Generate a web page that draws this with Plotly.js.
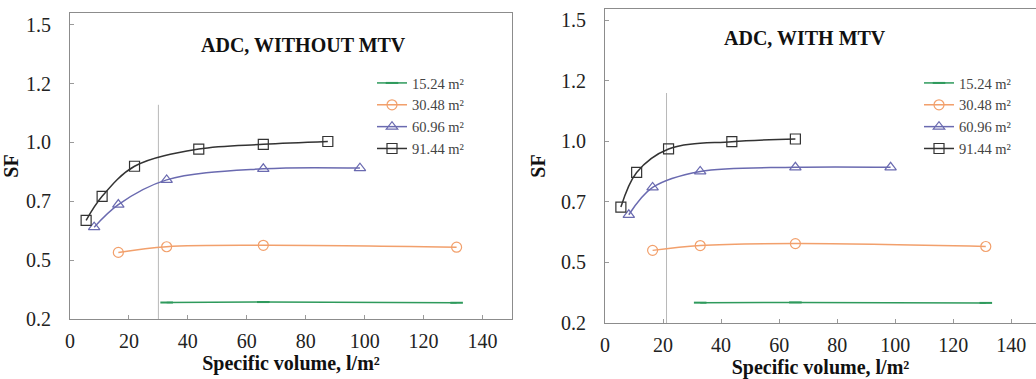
<!DOCTYPE html>
<html><head><meta charset="utf-8">
<script src="https://cdn.plot.ly/plotly-3.0.1.min.js"></script>
<style>html,body{margin:0;padding:0;background:#fff}#c{width:1036px;height:379px}</style>
</head><body><div id="c"></div>
<script>
const seriesNames = ["15.24 m²", "30.48 m²", "60.96 m²", "91.44 m²"];
const colors = ["#2e9a5c", "#f2a06c", "#6a6ab0", "#333333"];
const symbols = ["line-ew-open", "circle-open", "triangle-up-open", "square-open"];

const x15 = [32.8, 65.6, 131.2];
const x30 = [16.4, 32.8, 65.6, 131.2];
const x60 = [8.2, 16.4, 32.8, 65.6, 98.4];
const x91L = [5.47, 10.9, 21.9, 43.7, 65.6, 87.5];
const x91R = [5.47, 10.9, 21.9, 43.7, 65.6];

// ADC, WITHOUT MTV
const sf15L = [0.320, 0.322, 0.319];
const sf30L = [0.533, 0.557, 0.563, 0.555];
const sf60L = [0.640, 0.736, 0.841, 0.888, 0.891];
const sf91L = [0.669, 0.771, 0.899, 0.972, 0.992, 1.004];

// ADC, WITH MTV
const sf15R = [0.334, 0.335, 0.333];
const sf30R = [0.550, 0.570, 0.578, 0.566];
const sf60R = [0.697, 0.810, 0.876, 0.893, 0.893];
const sf91R = [0.729, 0.872, 0.969, 0.999, 1.010];

const refLineXL = [30, 30], refLineYL = [0.25, 1.16];
const refLineXR = [21.2, 21.2], refLineYR = [0.25, 1.2];

const yTickVals = [0.25, 0.5, 0.75, 1.0, 1.25, 1.5];
const yTickText = ["0.2", "0.5", "0.7", "1.0", "1.2", "1.5"];
const xTickVals = [0, 20, 40, 60, 80, 100, 120, 140];

const FONT = "'Times New Roman', 'Liberation Serif', 'DejaVu Serif', 'Noto Serif', Tinos, serif";

function mk(x, y, i, xa, ya, leg) {
  return {
    x: x, y: y, xaxis: xa, yaxis: ya, legend: leg,
    name: seriesNames[i], type: "scatter", mode: "lines+markers",
    line: {color: colors[i], width: 1.5, shape: "spline"},
    marker: {symbol: symbols[i], size: i === 0 ? 9 : 10, color: colors[i], line: {color: colors[i], width: i === 0 ? 2 : 1.2}}
  };
}

const data = [
  {x: refLineXL, y: refLineYL, xaxis: "x", yaxis: "y", mode: "lines", line: {color: "#b8b8b8", width: 1}, showlegend: false, hoverinfo: "skip"},
  mk(x15, sf15L, 0, "x", "y", "legend"),
  mk(x30, sf30L, 1, "x", "y", "legend"),
  mk(x60, sf60L, 2, "x", "y", "legend"),
  mk(x91L, sf91L, 3, "x", "y", "legend"),
  {x: refLineXR, y: refLineYR, xaxis: "x2", yaxis: "y2", mode: "lines", line: {color: "#b8b8b8", width: 1}, showlegend: false, hoverinfo: "skip"},
  mk(x15, sf15R, 0, "x2", "y2", "legend2"),
  mk(x30, sf30R, 1, "x2", "y2", "legend2"),
  mk(x60, sf60R, 2, "x2", "y2", "legend2"),
  mk(x91R, sf91R, 3, "x2", "y2", "legend2")
];

const axCommon = {
  showgrid: false, zeroline: false, showline: true, linecolor: "#8c8c8c", linewidth: 1, mirror: true,
  ticks: "inside", ticklen: 4, tickcolor: "#9a9a9a",
  tickfont: {family: FONT, size: 20, color: "#222"}
};
const xTitle = {text: "Specific volume, l/m²", font: {family: FONT, size: 20, color: "#111", weight: "bold"}, standoff: 2};
const yTitle = {text: "SF", font: {family: FONT, size: 20, color: "#111", weight: "bold"}, standoff: 10};

const legCommon = {font: {family: FONT, size: 14.5, color: "#444"}, bgcolor: "rgba(0,0,0,0)", itemwidth: 30, tracegroupgap: 0, xanchor: "left", yanchor: "top"};

const layout = {
  width: 1036, height: 379,
  margin: {l: 0, r: 0, t: 0, b: 0},
  paper_bgcolor: "#fff", plot_bgcolor: "#fff",
  showlegend: true,
  xaxis: Object.assign({}, axCommon, {domain: [70/1036, 512/1036], range: [0, 150], tickvals: xTickVals, anchor: "y", title: xTitle, ticklabelstandoff: 4}),
  yaxis: Object.assign({}, axCommon, {domain: [1 - 319/379, 1 - 13/379], range: [0.25, 1.55], tickvals: yTickVals, ticktext: yTickText, anchor: "x", title: yTitle, ticklabelstandoff: 14}),
  xaxis2: Object.assign({}, axCommon, {domain: [605/1036, 1], range: [0, 148.5], tickvals: xTickVals, anchor: "y2", title: xTitle, ticklabelstandoff: 4}),
  yaxis2: Object.assign({}, axCommon, {domain: [1 - 323/379, 1 - 9/379], range: [0.25, 1.547], tickvals: yTickVals, ticktext: yTickText, anchor: "x2", title: yTitle, ticklabelstandoff: 14}),
  legend: Object.assign({}, legCommon, {x: 372/1036, y: 1 - 67/379}),
  legend2: Object.assign({}, legCommon, {x: 919/1036, y: 1 - 67/379}),
  annotations: [
    {text: "ADC, WITHOUT MTV", xref: "paper", yref: "paper", x: 303/1036, y: 1 - 45/379, showarrow: false, xanchor: "center", yanchor: "middle", font: {family: FONT, size: 20, color: "#111", weight: "bold"}},
    {text: "ADC, WITH MTV", xref: "paper", yref: "paper", x: 805/1036, y: 1 - 38/379, showarrow: false, xanchor: "center", yanchor: "middle", font: {family: FONT, size: 20, color: "#111", weight: "bold"}}
  ]
};

Plotly.newPlot("c", data, layout, {staticPlot: true, displayModeBar: false});
</script>
</body></html>
